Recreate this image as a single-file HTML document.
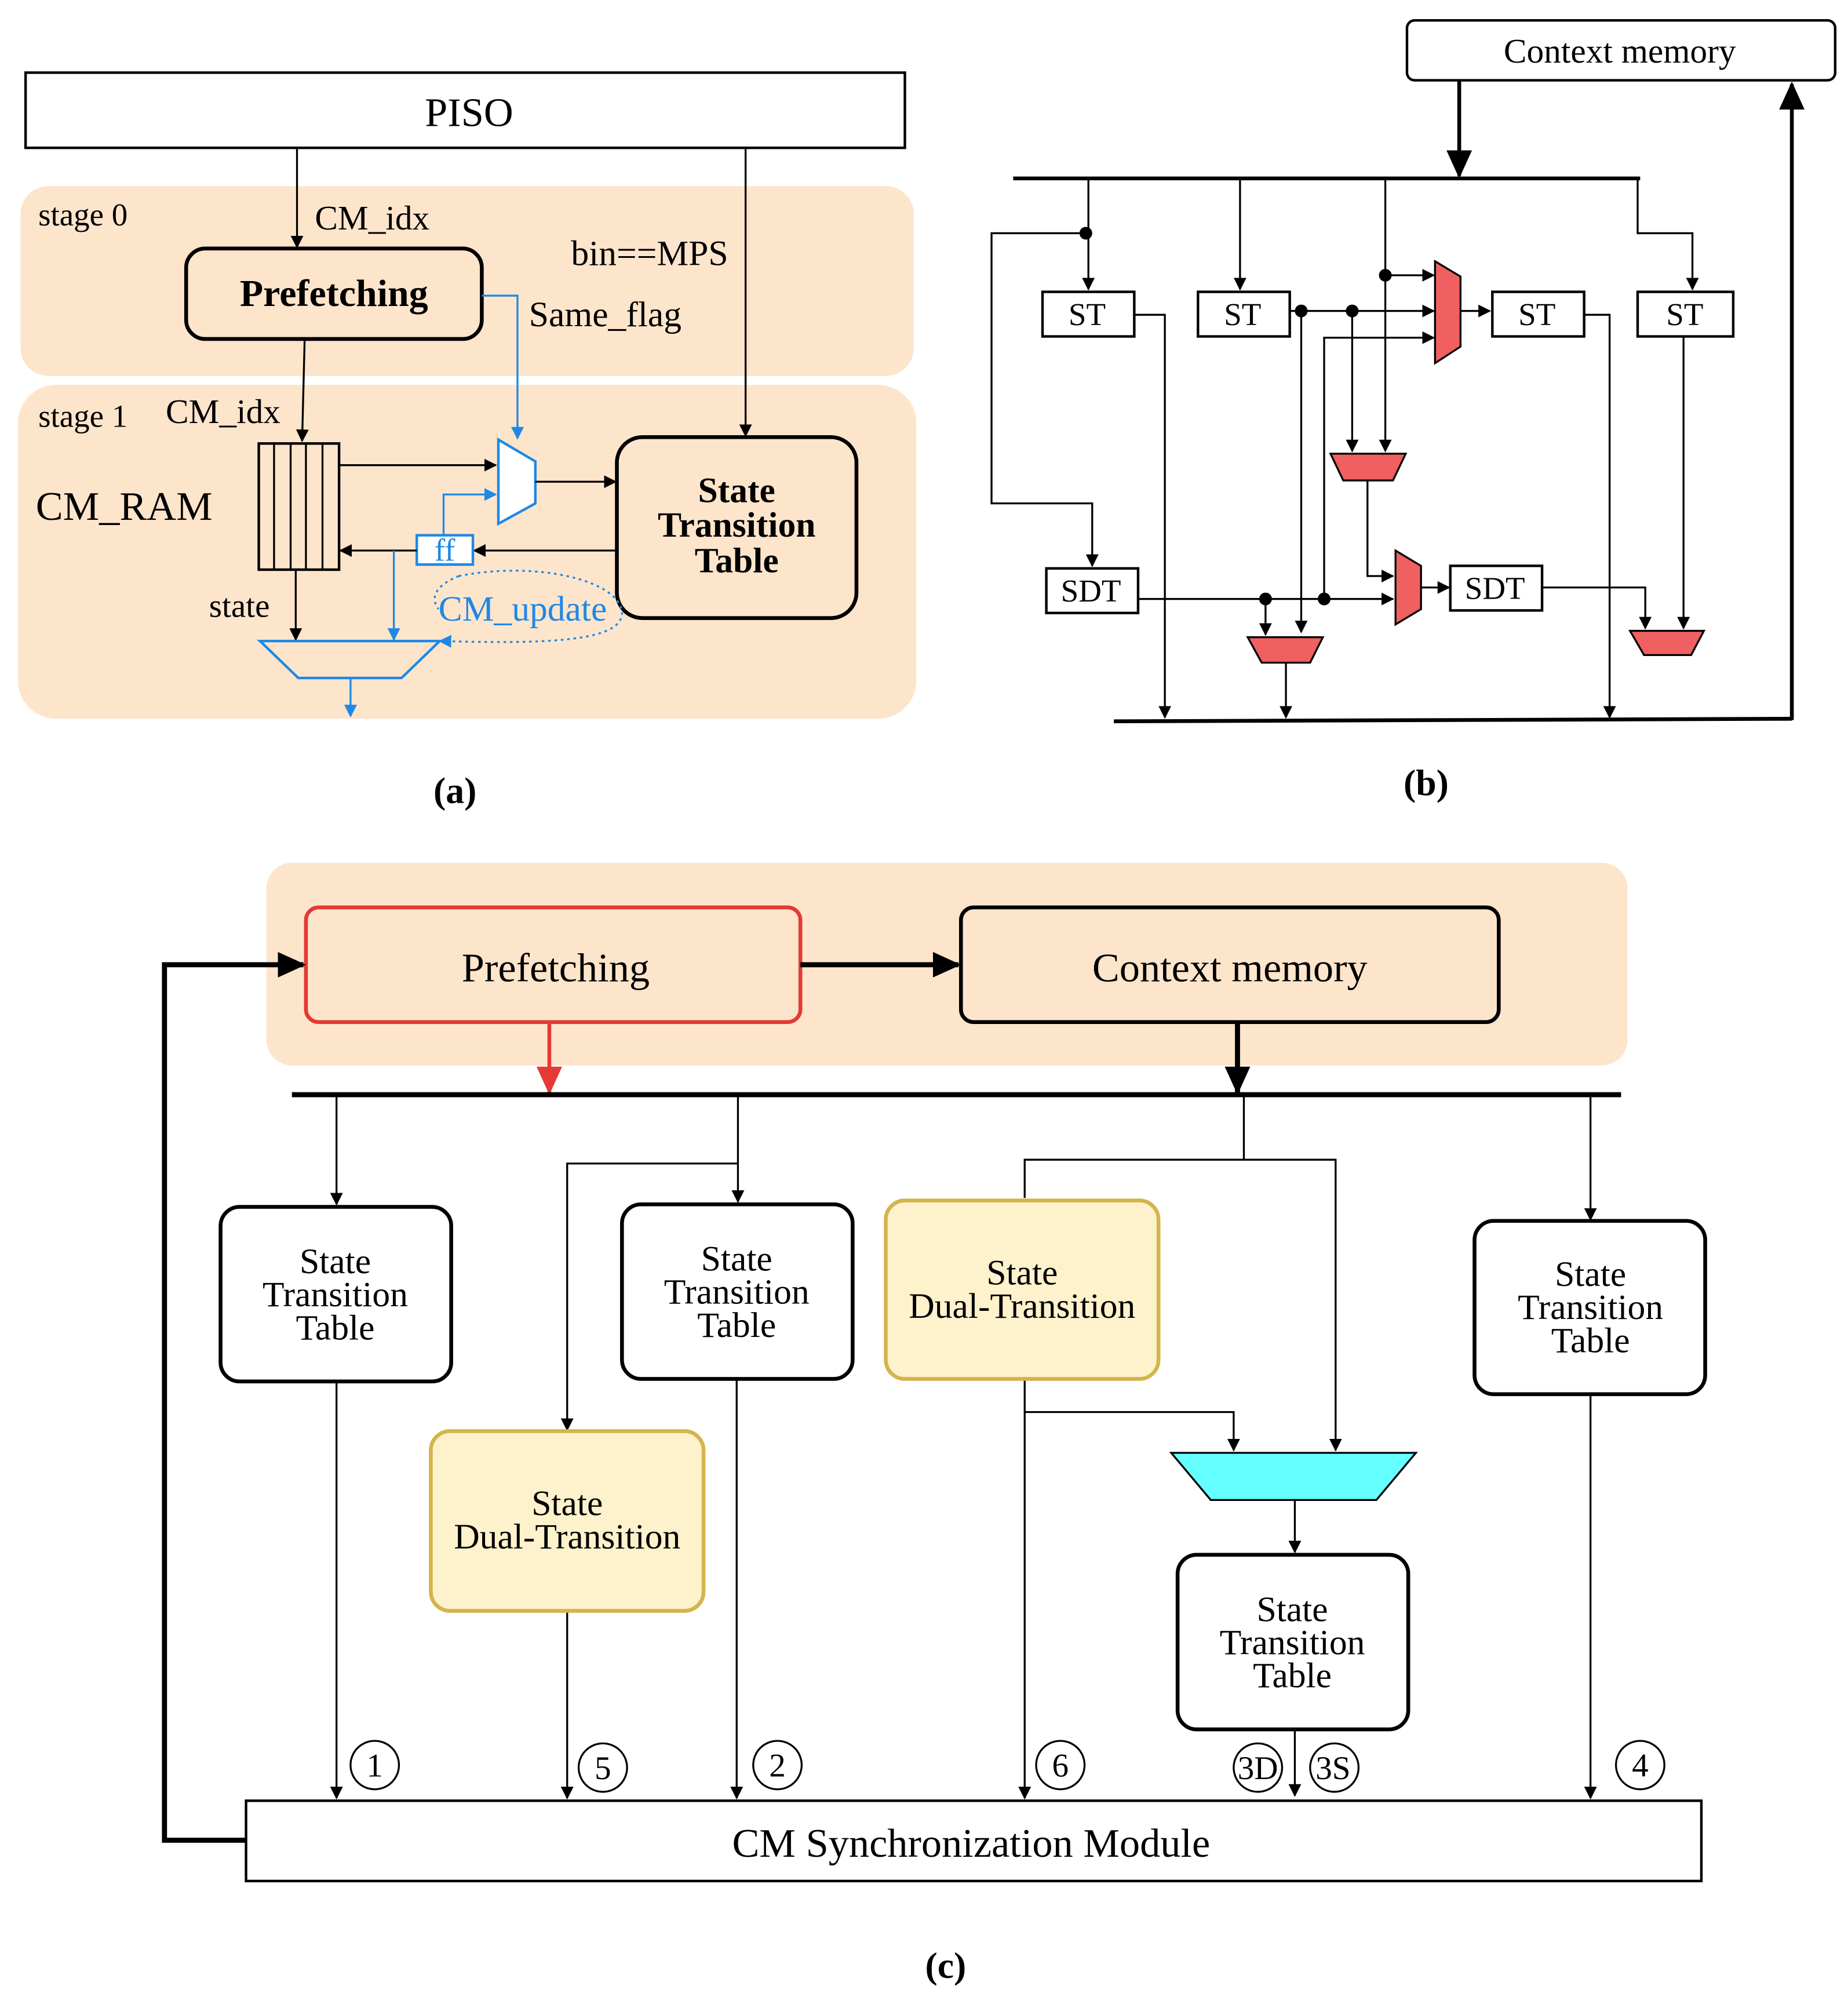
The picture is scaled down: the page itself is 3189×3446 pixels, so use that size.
<!DOCTYPE html>
<html><head><meta charset="utf-8"><style>
html,body{margin:0;padding:0;background:#fff}
svg{display:block}
text{font-family:"Liberation Serif",serif;fill:#000}
</style></head><body>
<svg width="3189" height="3446" viewBox="0 0 1450 1567" xmlns="http://www.w3.org/2000/svg">
<defs>
<marker id="a" markerWidth="10" markerHeight="10" refX="9" refY="5" orient="auto" markerUnits="userSpaceOnUse"><path d="M0,0 L10,5 L0,10 z" fill="#000"/></marker>
<marker id="ab" markerWidth="10" markerHeight="10" refX="9" refY="5" orient="auto" markerUnits="userSpaceOnUse"><path d="M0,0 L10,5 L0,10 z" fill="#1e88e5"/></marker>
<marker id="al" markerWidth="22" markerHeight="20" refX="20" refY="10" orient="auto" markerUnits="userSpaceOnUse"><path d="M0,0 L22,10 L0,20 z" fill="#000"/></marker>
<marker id="ar" markerWidth="22" markerHeight="20" refX="20" refY="10" orient="auto" markerUnits="userSpaceOnUse"><path d="M0,0 L22,10 L0,20 z" fill="#e53935"/></marker>
</defs>
<rect width="1450" height="1567" fill="#fff"/>

<!-- (a) -->
<rect x="16" y="146" width="701" height="149" rx="22" fill="#fde5cc"/>
<rect x="14" y="302" width="705" height="262" rx="30" fill="#fde5cc"/>
<rect x="20" y="57" width="690" height="59" fill="#fff" stroke="#000" stroke-width="2"/>
<text x="368" y="99" font-size="32" text-anchor="middle">PISO</text>
<text x="30" y="177" font-size="25">stage 0</text>
<text x="247" y="180" font-size="27">CM_idx</text>
<line x1="233" y1="116" x2="233" y2="194" stroke="#000" stroke-width="1.5" marker-end="url(#a)"/>
<rect x="146" y="195" width="232" height="71" rx="15" fill="none" stroke="#000" stroke-width="3"/>
<text x="262" y="240" font-size="30" font-weight="bold" text-anchor="middle">Prefetching</text>
<text x="448" y="208" font-size="28">bin==MPS</text>
<line x1="585" y1="116" x2="585" y2="342" stroke="#000" stroke-width="1.5" marker-end="url(#a)"/>
<text x="415" y="256" font-size="28">Same_flag</text>
<polyline points="378,232 406,232 406,344" fill="none" stroke="#1e88e5" stroke-width="1.5" marker-end="url(#ab)"/>
<text x="30" y="335" font-size="25">stage 1</text>
<text x="130" y="332" font-size="27">CM_idx</text>
<line x1="239" y1="266" x2="237" y2="346" stroke="#000" stroke-width="1.5" marker-end="url(#a)"/>
<text x="28" y="408" font-size="32">CM_RAM</text>
<rect x="203" y="348" width="63" height="99" fill="none" stroke="#000" stroke-width="2"/>
<g stroke="#000" stroke-width="1.5"><line x1="215" y1="348" x2="215" y2="447"/><line x1="228" y1="348" x2="228" y2="447"/><line x1="240" y1="348" x2="240" y2="447"/><line x1="253" y1="348" x2="253" y2="447"/></g>
<line x1="266" y1="365" x2="389" y2="365" stroke="#000" stroke-width="1.5" marker-end="url(#a)"/>
<path d="M391,345 L420,362 L420,395 L391,411 z" fill="#fff" stroke="#1e88e5" stroke-width="2"/>
<line x1="420" y1="378" x2="483" y2="378" stroke="#000" stroke-width="1.5" marker-end="url(#a)"/>
<polyline points="348,420 348,388 389,388" fill="none" stroke="#1e88e5" stroke-width="1.5" marker-end="url(#ab)"/>
<rect x="484" y="343" width="188" height="142" rx="20" fill="none" stroke="#000" stroke-width="3"/>
<text x="578" y="394" font-size="28" font-weight="bold" text-anchor="middle">State</text>
<text x="578" y="421" font-size="28" font-weight="bold" text-anchor="middle">Transition</text>
<text x="578" y="449" font-size="28" font-weight="bold" text-anchor="middle">Table</text>
<line x1="484" y1="432" x2="372" y2="432" stroke="#000" stroke-width="1.5" marker-end="url(#a)"/>
<rect x="327" y="420" width="44" height="23" fill="#fff" stroke="#1e88e5" stroke-width="2"/>
<text x="349" y="440" font-size="25" text-anchor="middle" style="fill:#1e88e5">ff</text>
<line x1="327" y1="432" x2="267" y2="432" stroke="#000" stroke-width="1.5" marker-end="url(#a)"/>
<text x="164" y="484" font-size="26">state</text>
<line x1="232" y1="447" x2="232" y2="502" stroke="#000" stroke-width="1.5" marker-end="url(#a)"/>
<line x1="309" y1="432" x2="309" y2="502" stroke="#1e88e5" stroke-width="1.5" marker-end="url(#ab)"/>
<path d="M204,503 L345,503 L315,532 L234,532 z" fill="none" stroke="#1e88e5" stroke-width="2"/>
<line x1="275" y1="532" x2="275" y2="562" stroke="#1e88e5" stroke-width="1.5" marker-end="url(#ab)"/>
<text x="344" y="487" font-size="28" style="fill:#1e88e5">CM_update</text>
<path d="M360,452 C420,440 485,455 488,480 C490,505 420,505 345,503" fill="none" stroke="#1e88e5" stroke-width="1.5" stroke-dasharray="2,3" marker-end="url(#ab)"/>
<path d="M360,452 C340,460 338,470 344,478" fill="none" stroke="#1e88e5" stroke-width="1.5" stroke-dasharray="2,3"/>
<text x="357" y="630" font-size="29" font-weight="bold" text-anchor="middle">(a)</text>

<!-- (b) -->
<rect x="1104" y="16" width="336" height="47" rx="6" fill="#fff" stroke="#000" stroke-width="2"/>
<text x="1271" y="49" font-size="27" text-anchor="middle">Context memory</text>
<line x1="1145" y1="63" x2="1145" y2="138" stroke="#000" stroke-width="3" marker-end="url(#al)"/>
<line x1="795" y1="140" x2="1287" y2="140" stroke="#000" stroke-width="3"/>
<g fill="none" stroke="#000" stroke-width="1.5">
<polyline points="1285,140 1285,183 1328,183 1328,227" marker-end="url(#a)"/>
<line x1="854" y1="140" x2="854" y2="227" marker-end="url(#a)"/>
<polyline points="852,183 778,183 778,395 857,395 857,444" marker-end="url(#a)"/>
<line x1="973" y1="140" x2="973" y2="227" marker-end="url(#a)"/>
<line x1="1087" y1="140" x2="1087" y2="354" marker-end="url(#a)"/>
<line x1="1087" y1="216" x2="1125" y2="216" marker-end="url(#a)"/>
<line x1="1012" y1="244" x2="1125" y2="244" marker-end="url(#a)"/>
<line x1="1021" y1="244" x2="1021" y2="496" marker-end="url(#a)"/>
<line x1="1061" y1="244" x2="1061" y2="354" marker-end="url(#a)"/>
<polyline points="1039,470 1039,265 1125,265" marker-end="url(#a)"/>
<line x1="1146" y1="244" x2="1169" y2="244" marker-end="url(#a)"/>
<polyline points="1073,377 1073,452 1093,452" marker-end="url(#a)"/>
<line x1="1115" y1="461" x2="1137" y2="461" marker-end="url(#a)"/>
<line x1="893" y1="470" x2="1093" y2="470" marker-end="url(#a)"/>
<line x1="993" y1="470" x2="993" y2="498" marker-end="url(#a)"/>
<line x1="1009" y1="520" x2="1009" y2="563" marker-end="url(#a)"/>
<polyline points="890,247 914,247 914,563" marker-end="url(#a)"/>
<polyline points="1243,247 1263,247 1263,563" marker-end="url(#a)"/>
<line x1="1321" y1="264" x2="1321" y2="493" marker-end="url(#a)"/>
<polyline points="1210,461 1291,461 1291,493" marker-end="url(#a)"/>
</g>
<g fill="#000"><circle cx="852" cy="183" r="5"/><circle cx="1087" cy="216" r="5"/><circle cx="1021" cy="244" r="5"/><circle cx="1061" cy="244" r="5"/><circle cx="993" cy="470" r="5"/><circle cx="1039" cy="470" r="5"/></g>
<g fill="#fff" stroke="#000" stroke-width="2">
<rect x="818" y="229" width="72" height="35"/><rect x="940" y="229" width="72" height="35"/>
<rect x="1171" y="229" width="72" height="35"/><rect x="1285" y="229" width="75" height="35"/>
<rect x="821" y="446" width="72" height="35"/><rect x="1138" y="444" width="72" height="35"/>
</g>
<g font-size="25" text-anchor="middle">
<text x="853" y="255">ST</text><text x="975" y="255">ST</text><text x="1206" y="255">ST</text><text x="1322" y="255">ST</text>
<text x="856" y="472">SDT</text><text x="1173" y="470">SDT</text>
</g>
<g fill="#f06060" stroke="#000" stroke-width="1.5">
<path d="M1126,205 L1146,217 L1146,272 L1126,285 z"/>
<path d="M1044,356 L1103,356 L1093,377 L1054,377 z"/>
<path d="M1095,432 L1115,444 L1115,478 L1095,490 z"/>
<path d="M979,500 L1038,500 L1028,520 L990,520 z"/>
<path d="M1279,495 L1337,495 L1327,514 L1290,514 z"/>
</g>
<line x1="874" y1="566" x2="1406" y2="564" stroke="#000" stroke-width="3"/>
<line x1="1406" y1="565" x2="1406" y2="66" stroke="#000" stroke-width="3" marker-end="url(#al)"/>
<text x="1119" y="624" font-size="29" font-weight="bold" text-anchor="middle">(b)</text>

<!-- (c) -->
<rect x="209" y="677" width="1068" height="159" rx="20" fill="#fde5cc"/>
<rect x="240" y="712" width="388" height="90" rx="10" fill="none" stroke="#e53935" stroke-width="3"/>
<text x="436" y="770" font-size="32" text-anchor="middle">Prefetching</text>
<rect x="754" y="712" width="422" height="90" rx="10" fill="none" stroke="#000" stroke-width="3"/>
<text x="965" y="770" font-size="32" text-anchor="middle">Context memory</text>
<line x1="628" y1="757" x2="752" y2="757" stroke="#000" stroke-width="4" marker-end="url(#al)"/>
<line x1="431" y1="802" x2="431" y2="857" stroke="#e53935" stroke-width="3" marker-end="url(#ar)"/>
<line x1="971" y1="802" x2="971" y2="857" stroke="#000" stroke-width="4" marker-end="url(#al)"/>
<line x1="229" y1="859" x2="1272" y2="859" stroke="#000" stroke-width="4"/>
<polyline points="193,1444 129,1444 129,757 238,757" fill="none" stroke="#000" stroke-width="4" marker-end="url(#al)"/>
<g fill="none" stroke="#000" stroke-width="1.5">
<line x1="264" y1="859" x2="264" y2="945" marker-end="url(#a)"/>
<line x1="579" y1="859" x2="579" y2="943" marker-end="url(#a)"/>
<polyline points="579,913 445,913 445,1122" marker-end="url(#a)"/>
<line x1="976" y1="859" x2="976" y2="910"/>
<polyline points="804,940 804,910 1048,910 1048,1138" marker-end="url(#a)"/>
<line x1="804" y1="1082" x2="804" y2="1411" marker-end="url(#a)"/>
<polyline points="804,1108 968,1108 968,1138" marker-end="url(#a)"/>
<line x1="1016" y1="1177" x2="1016" y2="1218" marker-end="url(#a)"/>
<line x1="1016" y1="1357" x2="1016" y2="1409" marker-end="url(#a)"/>
<line x1="1248" y1="859" x2="1248" y2="957" marker-end="url(#a)"/>
<line x1="1248" y1="1094" x2="1248" y2="1411" marker-end="url(#a)"/>
<line x1="264" y1="1084" x2="264" y2="1411" marker-end="url(#a)"/>
<line x1="445" y1="1264" x2="445" y2="1411" marker-end="url(#a)"/>
<line x1="578" y1="1082" x2="578" y2="1411" marker-end="url(#a)"/>
</g>
<path d="M919,1140 L1111,1140 L1080,1177 L950,1177 z" fill="#66ffff" stroke="#000" stroke-width="1.5"/>
<g fill="#fff" stroke="#000" stroke-width="3">
<rect x="173" y="947" width="181" height="137" rx="15"/>
<rect x="488" y="945" width="181" height="137" rx="15"/>
<rect x="924" y="1220" width="181" height="137" rx="15"/>
<rect x="1157" y="958" width="181" height="136" rx="15"/>
</g>
<g fill="#fdf2cc" stroke="#d4b44c" stroke-width="3">
<rect x="338" y="1123" width="214" height="141" rx="15"/>
<rect x="695" y="942" width="214" height="140" rx="15"/>
</g>
<g font-size="28" text-anchor="middle">
<text x="263" y="999">State</text><text x="263" y="1025">Transition</text><text x="263" y="1051">Table</text>
<text x="578" y="997">State</text><text x="578" y="1023">Transition</text><text x="578" y="1049">Table</text>
<text x="1014" y="1272">State</text><text x="1014" y="1298">Transition</text><text x="1014" y="1324">Table</text>
<text x="1248" y="1009">State</text><text x="1248" y="1035">Transition</text><text x="1248" y="1061">Table</text>
<text x="445" y="1189">State</text><text x="445" y="1215">Dual-Transition</text>
<text x="802" y="1008">State</text><text x="802" y="1034">Dual-Transition</text>
</g>
<g fill="#fff" stroke="#000" stroke-width="1.5">
<circle cx="294" cy="1385" r="19"/><circle cx="473" cy="1387" r="19"/><circle cx="610" cy="1385" r="19"/>
<circle cx="832" cy="1385" r="19"/><circle cx="987" cy="1387" r="19"/><circle cx="1047" cy="1387" r="19"/>
<circle cx="1287" cy="1385" r="19"/>
</g>
<g font-size="26" text-anchor="middle">
<text x="294" y="1394">1</text><text x="473" y="1396">5</text><text x="610" y="1394">2</text>
<text x="832" y="1394">6</text><text x="987" y="1396">3D</text><text x="1046" y="1396">3S</text>
<text x="1287" y="1394">4</text>
</g>
<rect x="193" y="1413" width="1142" height="63" fill="#fff" stroke="#000" stroke-width="2"/>
<text x="762" y="1457" font-size="32" text-anchor="middle">CM Synchronization Module</text>
<text x="742" y="1552" font-size="29" font-weight="bold" text-anchor="middle">(c)</text>
</svg>
</body></html>
